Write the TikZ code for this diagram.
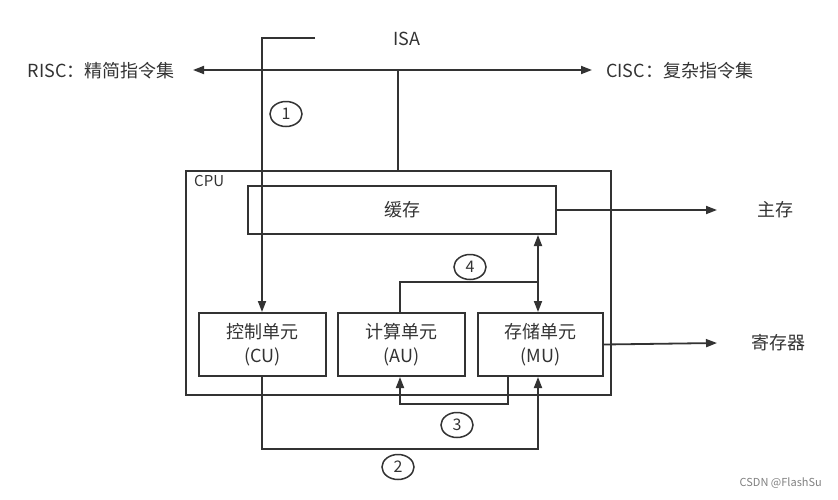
\documentclass[tikz,border=0pt]{standalone}
\usepackage{fontspec}
\setmainfont{Noto Sans CJK SC}
\usetikzlibrary{arrows.meta,shapes.geometric}
\definecolor{ln}{HTML}{333333}
\tikzset{
  tip/.tip={Triangle[length=11pt,width=8pt]},
  conn/.style={draw=ln, line width=1.8pt, -tip},
  plain/.style={draw=ln, line width=1.8pt},
  boxn/.style={draw=ln, line width=2pt, inner sep=0pt, text=ln, font=\fontsize{18}{24}\selectfont, align=center},
  lbl/.style={text=ln, font=\fontsize{18}{20}\selectfont, inner sep=1pt},
  num/.style={draw=ln, line width=1.5pt, ellipse, minimum width=32pt, minimum height=25pt, inner sep=0pt, text=ln, font=\fontsize{16}{18}\selectfont}
}
\begin{document}
\begin{tikzpicture}[x=1pt,y=-1pt]
\useasboundingbox (0,0) rectangle (838,499);
% CPU outer
\node[draw=ln, line width=2pt, minimum width=425pt, minimum height=224pt, anchor=north west, inner sep=0pt] (cpu) at (185,170) {};
\node[text=ln, font=\fontsize{15}{18}\selectfont, anchor=west, inner sep=0pt] (cpul) at (194,181) {CPU};
% boxes
\node[boxn, minimum width=308pt, minimum height=48pt, anchor=north west] (cache) at (247,185) {缓存};
\node[boxn, minimum width=127pt, minimum height=63pt, anchor=north west] (cu) at (198,312) {控制单元\\(CU)};
\node[boxn, minimum width=127pt, minimum height=63pt, anchor=north west] (au) at (337,312) {计算单元\\(AU)};
\node[boxn, minimum width=125pt, minimum height=63pt, anchor=north west] (mu) at (477,312) {存储单元\\(MU)};
% labels
\node[lbl] (isa) at (407,39) {ISA};
\node[lbl, anchor=east] (risc) at (176,71) {RISC：精简指令集};
\node[lbl, anchor=west] (cisc) at (605,71) {CISC：复杂指令集};
\node[lbl] (zc) at (775,210) {主存};
\node[lbl] (jcq) at (778,343) {寄存器};
\node[text=gray, font=\fontsize{11}{13}\selectfont, anchor=east, inner sep=0pt] (wm) at (822,483) {CSDN @FlashSu};
% coordinates
\coordinate (isaL) at (315,38);
\coordinate (rA) at (193,70);
\coordinate (cA) at (592,70);
\coordinate (mid) at (398,70);
\coordinate (zcA) at (717,210);
\coordinate (jcA) at (717,343);
% ISA lines
\draw[conn, tip-tip] (rA) -- (cA);
\draw[plain] (mid) -- (mid |- cpu.north);
\draw[conn] (isaL) -- (262,38) -- (262,38 |- cu.north);
\node[num] (n1) at (286,114) {1};
% cache to main memory
\draw[conn] (cache.east) -- (zcA);
\draw[conn] (mu.east) -- (jcA);
% 4
\draw[conn, tip-tip] (538,0 |- mu.north) -- (538,0 |- cache.south);
\draw[plain] (400,0 |- au.north) -- (400,282) -- (538,282);
\node[num] (n4) at (470,267) {4};
% 3
\draw[conn] (508,0 |- mu.south) -- (508,404) -- (400,404) -- (400,0 |- au.south);
\node[num] (n3) at (457,425) {3};
% 2
\draw[conn] (262,0 |- cu.south) -- (262,449) -- (538,449) -- (538,0 |- mu.south);
\node[num] (n2) at (398,467) {2};
\end{tikzpicture}
\end{document}
